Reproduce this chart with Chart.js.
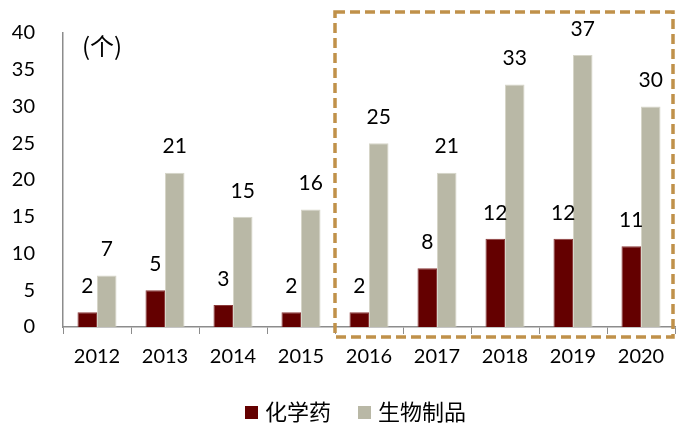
<!DOCTYPE html>
<html>
<head>
<meta charset="utf-8">
<script src="https://cdn.jsdelivr.net/npm/chart.js@4/dist/chart.umd.min.js"></script>
<style>
  html, body { margin: 0; padding: 0; background: #fff; }
  #wrap { width: 687px; height: 433px; }
</style>
</head>
<body>
<div id="wrap"><canvas id="chart" width="687" height="433"></canvas></div>
<script>
const YEARS = [`2012`, `2013`, `2014`, `2015`, `2016`, `2017`, `2018`, `2019`, `2020`];
const CHEMICAL = [2, 5, 3, 2, 2, 8, 12, 12, 11];
const BIOLOGIC = [7, 21, 15, 16, 25, 21, 33, 37, 30];
const SERIES_NAMES = [`化学药`, `生物制品`];
const Y_TICKS = [0, 5, 10, 15, 20, 25, 30, 35, 40];
const HIGHLIGHT_FROM = 4; // 2016 onwards sits in the dashed box

const NUM_FONT = `Lato, "Liberation Sans", sans-serif`;
const CJK_FONT = `"Noto Sans CJK SC", sans-serif`;

// value labels above each bar, "(个)" unit, dashed box and legend
const decorPlugin = {
  id: `decor`,
  afterDatasetsDraw(chart) {
    const ctx = chart.ctx;
    const x = chart.scales.x;

    ctx.save();
    ctx.fillStyle = `#000`;
    ctx.font = `21px ${NUM_FONT}`;
    ctx.textAlign = `center`;
    ctx.textBaseline = `middle`;
    chart.data.datasets.forEach((ds, i) => {
      chart.getDatasetMeta(i).data.forEach((bar, j) => {
        ctx.fillText(String(ds.data[j]), bar.x, bar.y - 26);
      });
    });

    ctx.font = `24px ${CJK_FONT}`;
    ctx.textAlign = `left`;
    ctx.fillText(`(个)`, chart.chartArea.left + 19, 46);

    // dashed highlight box
    const step = (x.right - x.left) / YEARS.length;
    const boxLeft = x.left + step * HIGHLIGHT_FROM;
    ctx.strokeStyle = `#C0914A`;
    ctx.lineWidth = 3.5;
    ctx.setLineDash([10, 5]);
    ctx.strokeRect(boxLeft, 12, x.right - 2 - boxLeft, 325);
    ctx.setLineDash([]);

    // legend
    let lx = 245;
    const ly = 412;
    chart.data.datasets.forEach((ds) => {
      ctx.fillStyle = ds.backgroundColor;
      ctx.fillRect(lx, ly - 6, 13, 13);
      ctx.fillStyle = `#000`;
      ctx.font = `22px ${CJK_FONT}`;
      ctx.textAlign = `left`;
      ctx.fillText(ds.label, lx + 20, ly);
      lx += 20 + ctx.measureText(ds.label).width + 27;
    });
    ctx.restore();
  }
};

new Chart(document.getElementById(`chart`), {
  type: `bar`,
  plugins: [decorPlugin],
  data: {
    labels: YEARS,
    datasets: [
      {
        label: SERIES_NAMES[0],
        data: CHEMICAL,
        backgroundColor: `#640000`,
        borderColor: `#8a3a3a`,
        borderWidth: 1,
      },
      {
        label: SERIES_NAMES[1],
        data: BIOLOGIC,
        backgroundColor: `#B9B8A6`,
        borderColor: `#d6d5c8`,
        borderWidth: 1,
      },
    ],
  },
  options: {
    responsive: false,
    animation: false,
    events: [],
    categoryPercentage: 0.574,
    barPercentage: 1,
    layout: {
      padding: {left: 0, right: 12, top: 33, bottom: 0},
    },
    plugins: {
      legend: {display: false},
      tooltip: {enabled: false},
    },
    scales: {
      x: {
        grid: {
          display: true,
          drawOnChartArea: false,
          offset: true,
          tickLength: 7,
          color: `#8c8c8c`,
        },
        border: {display: true, color: `#8c8c8c`, width: 1.5},
        ticks: {
          color: `#000`,
          font: {family: NUM_FONT, size: 20},
          padding: 11,
        },
        afterFit(scale) {
          scale.height = 106;
        },
      },
      y: {
        min: 0,
        max: 40,
        afterBuildTicks(scale) {
          scale.ticks = Y_TICKS.map((v) => ({value: v}));
        },
        grid: {display: false},
        border: {display: true, color: `#8c8c8c`, width: 1.5},
        ticks: {
          color: `#000`,
          font: {family: NUM_FONT, size: 20},
          padding: 20,
        },
        afterFit(scale) {
          scale.width = 63;
        },
      },
    },
  },
});
</script>
</body>
</html>
